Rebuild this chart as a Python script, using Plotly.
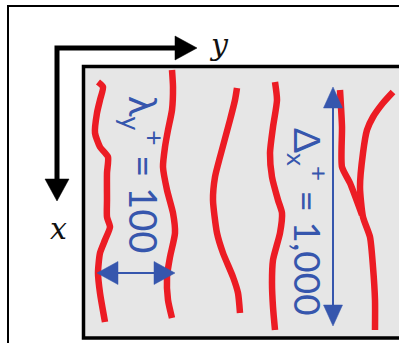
import math
import plotly.graph_objects as go

# Streak centre-lines (x = spanwise pixel position, y = streamwise pixel position)
streak1_x = [98, 103, 100, 97, 95, 100, 108, 107, 107, 107, 110, 105, 100, 98, 100, 105]
streak1_y = [82, 87, 100, 113, 133, 147, 157, 173, 200, 217, 227, 240, 253, 273, 293, 322]
streak2_x = [172, 173, 172, 168, 165, 163, 167, 173, 175, 170, 167, 168, 172]
streak2_y = [70, 87, 110, 130, 147, 167, 190, 213, 233, 257, 277, 300, 318]
streak3_x = [237, 235, 230, 220, 215, 213, 217, 223, 233, 238, 240]
streak3_y = [88, 100, 120, 157, 177, 200, 233, 253, 277, 293, 313]
streak4_x = [275, 277, 273, 270, 272, 278, 282, 280, 273, 272, 273, 275]
streak4_y = [82, 100, 127, 153, 177, 200, 213, 233, 260, 283, 307, 330]
streak5a_x = [340, 342, 342, 350, 362]
streak5a_y = [90, 127, 167, 183, 215]
streak5b_x = [393, 383, 373, 367, 363, 360, 363, 370, 373, 375, 375]
streak5b_y = [92, 103, 117, 130, 153, 187, 217, 237, 267, 300, 330]

streaks = [(streak1_x, streak1_y), (streak2_x, streak2_y), (streak3_x, streak3_y),
           (streak4_x, streak4_y), (streak5a_x, streak5a_y), (streak5b_x, streak5b_y)]

# Coordinate-system arrows: origin, y-direction tip, x-direction tip
axis_origin = (57, 48)
axis_y_tip = (197, 48)
axis_x_tip = (57, 201)

# Dimension arrows
lambda_arrow = [(97, 273), (175, 273)]
delta_arrow = [(333, 87), (333, 326)]

labels = {
    "lambda": "λ<sub>y</sub><sup>+</sup> = 100",
    "delta": "Δ<sub>x</sub><sup>+</sup> = 1,000",
    "y": "y",
    "x": "x",
}

RED = "#ec1c24"
BLUE = "#3656ad"
BLACK = "#000000"

fig = go.Figure()


def head(tip, direction, length, width):
    tx, ty = tip
    dx, dy = direction
    bx, by = tx - dx * length, ty - dy * length
    px, py = -dy * width / 2, dx * width / 2
    return [tx, bx + px, bx - px, tx], [ty, by + py, by - py, ty]


def arrow(p0, p1, color, lw, hl, hw, both):
    dx, dy = p1[0] - p0[0], p1[1] - p0[1]
    n = math.hypot(dx, dy)
    ux, uy = dx / n, dy / n
    s0 = (p0[0] + ux * hl * 0.5, p0[1] + uy * hl * 0.5) if both else p0
    s1 = (p1[0] - ux * hl * 0.5, p1[1] - uy * hl * 0.5)
    fig.add_trace(go.Scatter(x=[s0[0], s1[0]], y=[s0[1], s1[1]], mode="lines",
                             line=dict(color=color, width=lw), hoverinfo="skip"))
    hx, hy = head(p1, (ux, uy), hl, hw)
    fig.add_trace(go.Scatter(x=hx, y=hy, mode="lines", fill="toself", fillcolor=color,
                             line=dict(color=color, width=0.5), hoverinfo="skip"))
    if both:
        hx, hy = head(p0, (-ux, -uy), hl, hw)
        fig.add_trace(go.Scatter(x=hx, y=hy, mode="lines", fill="toself", fillcolor=color,
                                 line=dict(color=color, width=0.5), hoverinfo="skip"))


for sx, sy in streaks:
    fig.add_trace(go.Scatter(x=sx, y=sy, mode="lines",
                             line=dict(color=RED, width=6.5, shape="spline", smoothing=0.6),
                             hoverinfo="skip"))

# black axis arrows (corner line)
fig.add_trace(go.Scatter(x=[axis_x_tip[0], axis_origin[0], axis_y_tip[0] - 10],
                         y=[axis_x_tip[1] - 10, axis_origin[1], axis_y_tip[1]],
                         mode="lines", line=dict(color=BLACK, width=5), hoverinfo="skip"))
hx, hy = head(axis_y_tip, (1, 0), 22, 24)
fig.add_trace(go.Scatter(x=hx, y=hy, mode="lines", fill="toself", fillcolor=BLACK,
                         line=dict(color=BLACK, width=0.5), hoverinfo="skip"))
hx, hy = head(axis_x_tip, (0, 1), 22, 24)
fig.add_trace(go.Scatter(x=hx, y=hy, mode="lines", fill="toself", fillcolor=BLACK,
                         line=dict(color=BLACK, width=0.5), hoverinfo="skip"))

arrow(lambda_arrow[0], lambda_arrow[1], BLUE, 2, 21, 23, True)
arrow(delta_arrow[0], delta_arrow[1], BLUE, 2, 21, 19, True)

fig.add_annotation(x=143, y=174, text=labels["lambda"], textangle=90, showarrow=False,
                   font=dict(family="Lato", size=38, color=BLUE))
fig.add_annotation(x=309, y=222, text=labels["delta"], textangle=90, showarrow=False,
                   font=dict(family="Lato", size=37, color=BLUE))
fig.add_annotation(x=219, y=44, text="<i>" + labels["y"] + "</i>", showarrow=False,
                   font=dict(family="DejaVu Serif", size=30, color="#111111"))
fig.add_annotation(x=58, y=228, text="<i>" + labels["x"] + "</i>", showarrow=False,
                   font=dict(family="DejaVu Serif", size=30, color="#111111"))

fig.update_layout(
    width=399, height=343,
    margin=dict(l=0, r=0, t=0, b=0),
    paper_bgcolor="white", plot_bgcolor="white",
    showlegend=False,
    xaxis=dict(range=[0, 399], visible=False, fixedrange=True),
    yaxis=dict(range=[343, 0], visible=False, fixedrange=True),
    shapes=[
        dict(type="rect", xref="x", yref="y", x0=8, y0=6, x1=430, y1=360,
             line=dict(color=BLACK, width=2), fillcolor="white", layer="below"),
        dict(type="rect", xref="x", yref="y", x0=83.5, y0=66.5, x1=430, y1=338,
             line=dict(color=BLACK, width=3.5), fillcolor="#e6e6e6", layer="below"),
    ],
)

fig.write_html(
    "out.html",
    config={"displayModeBar": False},
    post_script="document.body.style.margin='0';document.body.style.overflow='hidden';"
                "document.documentElement.style.overflow='hidden';",
)
